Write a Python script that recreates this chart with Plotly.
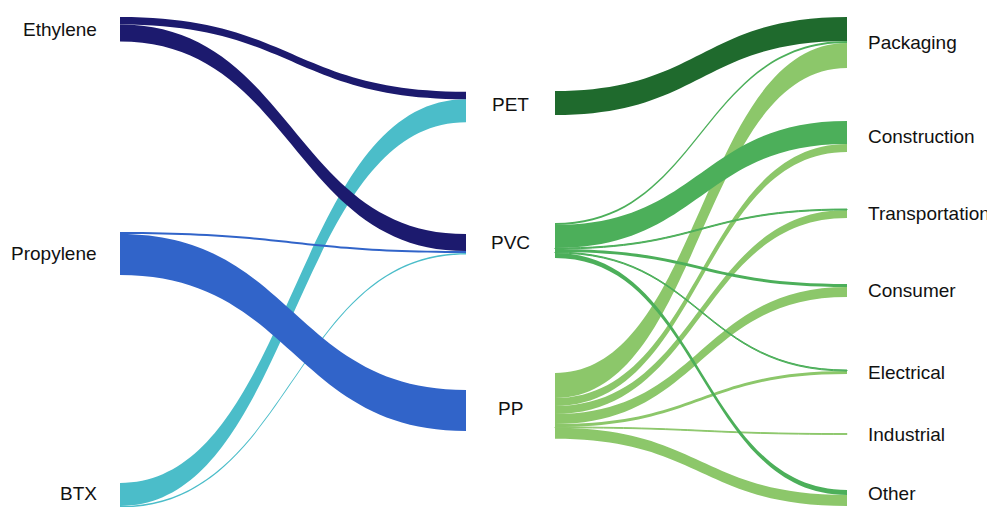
import plotly.graph_objects as go

PAGE_W, PAGE_H = 995, 507
OFF = 8  # the html body margin shifts the plot div by 8px
W, H = PAGE_W - OFF, PAGE_H - OFF

feedstocks = ["Ethylene", "Propylene", "BTX"]
polymers = ["PET", "PVC", "PP"]
sectors = ["Packaging", "Construction", "Transportation", "Consumer",
           "Electrical", "Industrial", "Other"]

# feedstock -> polymer flows (drawn in this order, last on top)
feed_src = ["BTX", "BTX", "Propylene", "Propylene", "Ethylene", "Ethylene"]
feed_dst = ["PET", "PVC", "PVC", "PP", "PET", "PVC"]
feed_val = [23, 1.5, 2, 41, 7.5, 17]

# polymer -> end-use flows
use_src = ["PP"] * 7 + ["PVC"] * 6 + ["PET"]
use_dst = ["Packaging", "Construction", "Transportation", "Consumer", "Electrical", "Industrial", "Other",
           "Packaging", "Construction", "Transportation", "Consumer", "Electrical", "Other",
           "Packaging"]
use_val = [25, 8, 8, 10, 3, 0.8, 11,
           2, 23, 1, 3, 1, 5,
           24]

feed_colors = {"Ethylene": "#1c1a6e", "Propylene": "#3164c9", "BTX": "#4bbdc9"}
polymer_colors = {"PET": "#1f6a2d", "PVC": "#4caf5a", "PP": "#8cc76a"}

# column layout in page px: where flows start / end
NODE_T = 2
col_px = {"feed": 120 - NODE_T / 2, "poly_in": 466 + NODE_T / 2,
          "poly_out": 555 - NODE_T / 2, "sector": 847 + NODE_T / 2}
# top edge of every node, page px from top
feed_top = [17, 232, 483]
poly_in_top = [91.7, 234, 390]
poly_out_top = [91, 223, 373]
sector_top = [17, 121, 209, 284, 370, 433.6, 490]

# node list: feedstocks, polymers (incoming side), polymers (outgoing side), sectors
names = feedstocks + polymers + polymers + sectors
idx_feed = {n: i for i, n in enumerate(feedstocks)}
idx_pin = {n: 3 + i for i, n in enumerate(polymers)}
idx_pout = {n: 6 + i for i, n in enumerate(polymers)}
idx_sec = {n: 9 + i for i, n in enumerate(sectors)}

source = [idx_feed[s] for s in feed_src] + [idx_pout[s] for s in use_src]
target = [idx_pin[t] for t in feed_dst] + [idx_sec[t] for t in use_dst]
value = feed_val + use_val
colors = [feed_colors[s] for s in feed_src] + [polymer_colors[s] for s in use_src]

inflow = [0.0] * len(names)
outflow = [0.0] * len(names)
for s, t, v in zip(source, target, value):
    outflow[s] += v
    inflow[t] += v
size = [max(a, b) for a, b in zip(inflow, outflow)]

tops = feed_top + poly_in_top + poly_out_top + sector_top
cols = ["feed"] * 3 + ["poly_in"] * 3 + ["poly_out"] * 3 + ["sector"] * 7
node_x = [(col_px[c] - OFF) / W for c in cols]
node_y = [(t - OFF + sz / 2) / H for t, sz in zip(tops, size)]

# padding chosen so that one value unit = one pixel (the sinks column is the binding one)
sink_col = list(range(3, 6)) + list(range(9, 16))
pad = (H - sum(size[i] for i in sink_col)) / (len(sink_col) - 1)

fig = go.Figure(go.Sankey(
    arrangement="fixed",
    domain=dict(x=[0, 1], y=[0, 1]),
    node=dict(label=names, x=node_x, y=node_y, pad=pad, thickness=NODE_T,
              color="rgba(0,0,0,0)", line=dict(width=0)),
    link=dict(source=source, target=target, value=value, color=colors),
    textfont=dict(color="rgba(0,0,0,0)", size=1),
))

FONT_SIZE = 19
font = dict(family="Arial, Liberation Sans, sans-serif", size=FONT_SIZE, color="#111111")
half_box = (0.65 * FONT_SIZE + 1) / H


def label_y(yn):
    # keep the text box inside the page
    return min(max(1 - yn, half_box), 1 - half_box)


annotations = []
for n in feedstocks:
    i = idx_feed[n]
    annotations.append(dict(text=n, x=(99 - OFF) / W, y=label_y(node_y[i]),
                            xanchor="right", yanchor="middle", showarrow=False, font=font))
for n in polymers:
    yc = (node_y[idx_pin[n]] + node_y[idx_pout[n]]) / 2
    annotations.append(dict(text=n, x=((col_px["poly_in"] + col_px["poly_out"]) / 2 - OFF) / W,
                            y=label_y(yc), xanchor="center", yanchor="middle", showarrow=False, font=font))
for n in sectors:
    i = idx_sec[n]
    annotations.append(dict(text=n, x=(866 - OFF) / W, y=label_y(node_y[i]),
                            xanchor="left", yanchor="middle", showarrow=False, font=font))

fig.update_layout(width=W, height=H, margin=dict(l=0, r=0, t=0, b=0),
                  paper_bgcolor="white", annotations=annotations)
fig.write_html("out.html")
